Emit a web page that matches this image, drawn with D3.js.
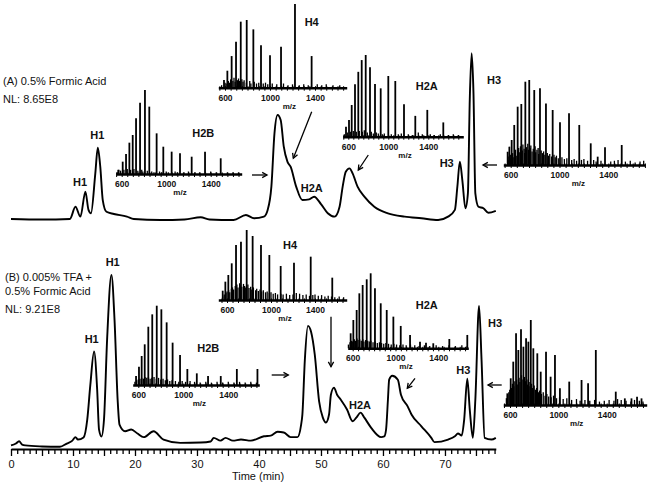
<!DOCTYPE html>
<html><head><meta charset="utf-8">
<script src="https://cdn.jsdelivr.net/npm/d3@7"></script>
<style>
body{margin:0;background:#fff}
text{font-family:"Liberation Sans",Arial,sans-serif;fill:#111}
</style>
</head><body>
<svg id="c" width="651" height="486"></svg>
<script>
// ---------------- DATA ----------------
const timeTicks = [0,10,20,30,40,50,60,70];
const mzTicks = [600,1000,1400];

// Chromatogram (A) 0.5% Formic Acid  (relative intensity, %)
const timeA = [0,5,9.5,10.4,11.2,12.0,12.5,12.9,13.6,14.0,14.4,14.8,15.4,16.6,18.7,19.8,24.1,28,30.6,32,35.9,37.9,39.2,40.8,41.4,42.0,42.5,43.0,43.5,44.0,44.6,45.1,46.0,47.0,48.1,48.9,50.0,51.1,52.2,53.0,53.5,54.0,54.6,55.1,55.9,57.0,58.6,60.8,63.5,66.2,68.9,70.5,71.6,72.0,72.4,72.8,73.3,73.7,74.0,74.3,74.6,74.9,75.4,76.2,77.0,78.2];
const intA  = [1.2,0.9,1.2,8.5,2.6,17.5,6.6,4.6,28.4,43.7,32.4,12.5,5.5,4.2,2.6,1.2,0.6,0.9,2.2,0.9,0.6,3.6,1.6,2.6,6.6,20.5,52.3,63.2,60.2,44.3,35.3,32.4,20.5,12.5,12.9,14.5,10.1,4.6,2.6,8.5,20.5,29.4,31.4,28.4,20.5,14.5,8.5,4.6,2.6,1.6,0.6,2.6,6.6,20.5,35.4,24.4,7.6,16.5,72.2,100,76.1,16.5,8.5,7.6,4.9,6.1];

// Chromatogram (B) 0.005% TFA + 0.5% Formic Acid
const timeB = [0,0.8,1.3,1.8,2.3,5,7.9,9.0,9.9,10.4,10.8,11.7,12.3,12.8,13.4,13.9,14.2,14.6,15.0,15.5,16.2,16.7,17.2,17.5,18.4,19.4,20.4,21.4,23.0,24.6,27.3,30.6,32.2,32.7,33.8,34.6,35.8,37.1,38.7,40.8,41.9,43.0,44.0,45.1,46.2,46.8,47.0,47.4,47.9,48.4,49.0,49.7,50.3,50.8,51.3,51.6,52.1,52.6,53.2,54.2,55.1,55.7,56.4,57.0,58.1,59.7,60.2,60.5,60.8,61.0,61.5,62.4,62.9,64.0,64.6,66.2,67.8,68.3,70.5,71.6,72.1,72.7,73.1,73.6,74.0,74.5,74.9,75.5,75.9,76.4,77.5,78.2];
const intB  = [1.2,2.3,3.6,1.7,1.2,0.6,0.4,2.3,4.0,6.0,4.6,5.8,16.2,36.4,55.7,33.5,10.4,6.4,16.2,62.4,100,74.0,27.7,13.3,9.4,10.4,8.1,6.0,9.4,4.6,2.7,2.9,3.5,5.6,4.0,5.6,4.0,4.6,4.0,6.5,6.9,9.1,8.7,6.0,6.0,13.3,19.1,50.9,70.5,67.1,53.8,26.8,17.3,14.5,19.1,30.6,34.7,30.6,27.7,22.0,15.2,17.3,20.2,17.3,11.4,6.0,6.4,10.4,27.7,39.3,41.6,39.3,30.6,23.7,19.1,12.3,5.6,3.1,4.6,6.5,8.1,6.9,16.2,39.9,22.0,5.6,27.7,82.1,50.9,5.6,4.6,5.6];

// Mass spectra, panel A
const aH2B_mz  = [569,609,639,669,699,729,765,809,848,914,974,1049,1124,1229,1349,1490];
const aH2B_int = [5,14.7,23.8,37.3,46.4,66.3,84.9,100,80.2,48.4,32.5,26.6,24.6,20.6,26.6,18.7];
const aH2B_nzMz  = [560,575,590,620,650,680,710,745,780,790,830,870,890,940,960,1000,1020,1080,1100,1160,1200,1260,1300,1400,1450,1550,1600,1650];
const aH2B_nzInt = [2,5,4,5,6,5,6,4,5,3,4,3,2,3,2,3,2,3,2,2,3,2,2,3,2,2,2,2];

const aH4_mz  = [591,621,659,698,740,793,852,920,1000,1098,1222,1370];
const aH4_int = [9.2,20.3,37.8,54.9,78.9,80.9,69.7,50.8,38.8,48.8,100,37.8];
const aH4_nzMz  = [570,600,610,630,640,650,670,680,690,710,720,730,750,760,770,790,820,830,860,880,900,940,960,980,1020,1060,1120,1160,1200,1260,1300,1340,1420,1460,1500,1560,1620];
const aH4_nzInt = [3,6,5,8,6,10,8,12,7,9,11,8,10,7,9,6,8,5,7,5,6,5,6,4,5,4,5,3,4,3,4,3,4,3,4,3,3];

const aH2A_mz  = [577,607,634,667,700,734,774,817,867,924,1000,1070,1157,1270,1390,1550];
const aH2A_int = [12.2,20.4,38.8,64.1,79.4,93.8,100,84.9,64.5,59.2,74.3,68.2,39.7,25.5,32.8,17.5];
const aH2A_nzMz  = [560,590,620,650,680,710,740,760,790,830,850,880,900,940,960,1030,1100,1130,1200,1240,1300,1340,1420,1460,1520,1600,1650,1700];
const aH2A_nzInt = [3,5,6,7,6,7,6,8,5,6,4,5,4,3,4,3,3,4,3,2,5,3,3,2,3,2,3,2];

const aH3_mz  = [575,589,608,629,657,687,720,752,793,840,889,944,1004,1078,1162,1256,1313,1373,1510];
const aH3_int = [15.6,21.6,29.4,47.1,68.6,71.8,98,100,88.2,90.2,72.5,64.7,50.2,60.8,47.1,25.5,9.8,20.8,23.5];
const aH3_nzMz  = [580,585,595,600,615,620,635,640,645,665,670,680,695,700,710,715,730,740,745,760,765,775,785,800,805,815,825,830,850,860,870,880,900,910,920,935,955,965,975,990,1020,1040,1060,1100,1120,1140,1180,1200,1230,1280,1300,1340,1420,1450,1480,1540,1580,1620,1660,1690];
const aH3_nzInt = [6,10,8,12,14,9,16,18,11,20,15,22,17,24,19,14,21,25,18,20,23,16,19,22,15,18,20,13,17,14,16,12,14,11,13,10,12,9,11,8,9,7,8,6,7,5,6,7,5,6,4,5,4,5,6,4,5,3,4,5];

// Mass spectra, panel B
const bH2B_mz  = [580,606,630,657,689,724,764,805,852,905,971,1036,1120,1220,1333,1476,1659];
const bH2B_int = [11.3,23.1,36.6,51.3,73.5,89.1,100,95.4,79,53.4,37.8,20.2,14.7,11.3,11.3,20.2,20.2];
const bH2B_nzMz  = [570,585,600,615,630,645,660,675,690,705,720,740,760,780,800,820,840,860,880,900,930,960,990,1020,1060,1100,1150,1200,1250,1300,1350,1400,1450,1500,1550,1600,1650];
const bH2B_nzInt = [4,6,7,8,9,8,10,9,10,8,9,10,8,9,7,8,6,7,5,6,5,4,5,4,5,4,3,4,3,4,3,4,3,4,3,4,3];

const bH4_mz  = [561,585,612,643,682,727,779,833,909,985,1088,1209,1361,1557];
const bH4_int = [13.3,26.2,35.7,52.4,78.6,83.3,100,91.4,78.6,64.3,48.6,53.3,61.9,31.9];
const bH4_nzMz  = [560,575,590,600,615,625,640,650,660,675,690,700,715,720,735,750,760,770,790,800,815,825,840,860,870,885,900,915,930,950,965,985,1000,1020,1040,1060,1090,1110,1140,1170,1200,1230,1260,1290,1320,1350,1380,1400,1430,1460,1490,1520,1550,1580,1620,1660];
const bH4_nzInt = [5,8,10,12,14,11,16,18,15,20,22,18,24,21,19,23,20,18,22,17,19,15,18,14,16,13,15,12,14,11,12,10,11,9,10,8,9,8,9,7,8,10,9,7,8,6,7,8,6,7,5,6,5,4,5,4];

const bH2A_mz  = [581,606,637,662,693,731,768,808,862,918,980,1049,1136,1229,1285,1353,1503,1671];
const bH2A_int = [20,37.7,51.1,73.3,84.4,92,100,80,60,51.1,42.2,29.8,17.8,8.9,7.5,6.7,12.4,17.8];
const bH2A_nzMz  = [560,575,590,600,615,625,640,650,665,680,695,705,720,740,755,770,790,810,830,850,870,890,910,935,960,985,1010,1040,1070,1100,1140,1180,1220,1270,1320,1380,1440,1500,1560,1620,1670];
const bH2A_nzInt = [5,8,10,9,12,10,13,11,12,10,12,9,11,10,9,10,8,9,7,8,7,6,7,6,5,6,5,4,5,4,5,4,3,4,3,4,3,4,3,4,3];

const bH3_mz  = [578,606,627,650,669,691,711,733,752,772,793,826,854,898,936,972,1013,1090,1192,1246,1310,1475,1550,1605,1651,1688];
const bH3_int = [13.7,31.4,51,84.3,64.7,89,68.6,78.4,74.5,100,66.7,60.8,39.2,62.7,33.3,58.8,19.6,27.5,29.4,25.5,64.7,15.7,7.8,7.8,9.8,7.8];
const bH3_nzMz  = [570,580,590,598,612,620,632,640,655,660,675,682,695,700,715,720,728,740,745,758,765,778,785,800,810,820,835,845,860,875,890,905,920,940,960,985,1010,1040,1070,1110,1150,1180,1220,1260,1300,1340,1380,1420,1460,1490,1520,1560,1600,1630,1670,1700];
const bH3_nzInt = [8,12,15,18,20,25,22,28,30,24,32,27,35,30,26,33,28,30,24,27,22,25,20,23,18,20,15,17,13,15,11,13,10,9,11,8,9,7,8,6,7,5,6,5,6,4,5,6,5,7,6,5,4,6,5,4];

// ---------------- DRAWING ----------------
const svg = d3.select("#c");
const FONT = '"Liberation Sans", Arial, sans-serif';

const x = d3.scaleLinear().domain([0, 78.2]).range([11, 495.8]);
const yA = d3.scaleLinear().domain([0, 100]).range([221, 53.3]);
const yB = d3.scaleLinear().domain([0, 100]).range([447.5, 275]);

function trace(ts, vs, y) {
  const line = d3.line().x(d => x(d[0])).y(d => y(d[1])).curve(d3.curveMonotoneX);
  svg.append("path").datum(d3.zip(ts, vs)).attr("d", line)
    .attr("fill", "none").attr("stroke", "#000").attr("stroke-width", 1.9)
    .attr("stroke-linejoin", "round");
}
trace(timeA, intA, yA);
trace(timeB, intB, yB);

// time axis
const axY = 449;
const gMinor = svg.append("g").attr("transform", `translate(0,${axY})`)
  .call(d3.axisBottom(x).tickValues(d3.range(0, 79)).tickSize(5).tickSizeOuter(0).tickFormat(""));
gMinor.select(".domain").attr("stroke-width", 2.2).attr("stroke", "#000");
gMinor.selectAll(".tick line").attr("stroke-width", 1.3).attr("stroke", "#000")
  .attr("y2", d => d % 5 === 0 ? 7 : 5);
const gMajor = svg.append("g").attr("transform", `translate(0,${axY})`)
  .call(d3.axisBottom(x).tickValues(timeTicks).tickSize(0).tickPadding(11).tickFormat(d3.format("d")));
gMajor.select(".domain").remove();
gMajor.selectAll("text").attr("font-family", FONT).attr("font-size", 11).attr("fill", "#111");
svg.append("text").attr("x", 258).attr("y", 480).attr("text-anchor", "middle")
  .attr("font-size", 11).text("Time (min)");

// spectrum insets
function inset(cfg, mz, it, nmz, nit) {
  const k = (cfg.p1400 - cfg.p600) / 800;
  const sx = d3.scaleLinear()
    .domain([600 + (cfg.x0 - cfg.p600) / k, 600 + (cfg.x1 - cfg.p600) / k])
    .range([cfg.x0, cfg.x1]);
  const sy = d3.scaleLinear().domain([0, 100]).range([cfg.base, cfg.base - cfg.h]);
  const g = svg.append("g");
  g.selectAll("line.nz").data(d3.zip(nmz, nit)).join("line").attr("class", "nz")
    .attr("x1", d => sx(d[0])).attr("x2", d => sx(d[0]))
    .attr("y1", sy(0)).attr("y2", d => sy(d[1]))
    .attr("stroke", "#000").attr("stroke-width", 1.3);
  g.selectAll("line.pk").data(d3.zip(mz, it)).join("line").attr("class", "pk")
    .attr("x1", d => sx(d[0])).attr("x2", d => sx(d[0]))
    .attr("y1", sy(0)).attr("y2", d => sy(d[1]))
    .attr("stroke", "#000").attr("stroke-width", 1.8);
  const dom = sx.domain();
  const ga = g.append("g").attr("transform", `translate(0,${cfg.base})`)
    .call(d3.axisBottom(sx).tickValues(d3.range(Math.ceil(dom[0] / 50) * 50, dom[1], 50))
      .tickSize(3).tickSizeOuter(0).tickFormat(""));
  ga.select(".domain").attr("stroke-width", 2.4).attr("stroke", "#000");
  ga.selectAll(".tick line").attr("stroke", "#000").attr("stroke-width", 1).attr("y1", -1.5);
  const gl = g.append("g").attr("transform", `translate(0,${cfg.base})`)
    .call(d3.axisBottom(sx).tickValues(mzTicks).tickSize(0).tickPadding(7).tickFormat(d3.format("d")));
  gl.select(".domain").remove();
  gl.selectAll("text").attr("font-family", FONT).attr("font-size", 8.5)
    .attr("font-weight", "bold").attr("fill", "#111");
  g.append("text").attr("x", cfg.mzx).attr("y", cfg.base + 21).attr("text-anchor", "middle")
    .attr("font-size", 8).attr("font-weight", "bold").text("m/z");
}

inset({p600:121.7, p1400:210.7, x0:116,   x1:241.7, base:174,   h:84,   mzx:180},   aH2B_mz, aH2B_int, aH2B_nzMz, aH2B_nzInt);
inset({p600:225,   p1400:315,   x0:218.3, x1:346.7, base:87.7,  h:83.7, mzx:289.3}, aH4_mz,  aH4_int,  aH4_nzMz,  aH4_nzInt);
inset({p600:348.3, p1400:428.3, x0:342.7, x1:463.3, base:136.7, h:81.7, mzx:405},   aH2A_mz, aH2A_int, aH2A_nzMz, aH2A_nzInt);
inset({p600:510.7, p1400:608.3, x0:503.3, x1:645,   base:165,   h:85,   mzx:578.3}, aH3_mz,  aH3_int,  aH3_nzMz,  aH3_nzInt);
inset({p600:138.3, p1400:228.3, x0:132.7, x1:259.3, base:385,   h:79.3, mzx:199.3}, bH2B_mz, bH2B_int, bH2B_nzMz, bH2B_nzInt);
inset({p600:227,   p1400:315,   x0:218.3, x1:346.7, base:300,   h:70,   mzx:285},   bH4_mz,  bH4_int,  bH4_nzMz,  bH4_nzInt);
inset({p600:352.7, p1400:438.3, x0:347.7, x1:468.3, base:348.3, h:75,   mzx:406},   bH2A_mz, bH2A_int, bH2A_nzMz, bH2A_nzInt);
inset({p600:510,   p1400:606.7, x0:503.3, x1:646.7, base:405,   h:85,   mzx:576.7}, bH3_mz,  bH3_int,  bH3_nzMz,  bH3_nzInt);

// arrows
function arrow(x1, y1, x2, y2) {
  const a = Math.atan2(y2 - y1, x2 - x1), L = 5.5, s = 0.5;
  svg.append("line").attr("x1", x1).attr("y1", y1).attr("x2", x2).attr("y2", y2)
    .attr("stroke", "#000").attr("stroke-width", 1.3);
  svg.append("path")
    .attr("d", `M${x2 - L * Math.cos(a - s)},${y2 - L * Math.sin(a - s)}L${x2},${y2}L${x2 - L * Math.cos(a + s)},${y2 - L * Math.sin(a + s)}`)
    .attr("fill", "none").attr("stroke", "#000").attr("stroke-width", 1.3);
}
arrow(252, 175, 267, 175);
arrow(311.7, 111.7, 293.3, 158.3);
arrow(368.3, 155, 358.3, 170);
arrow(497, 165, 483, 165);
arrow(271.7, 375, 288.3, 375);
arrow(331, 316.7, 331, 366.7);
arrow(415, 378.3, 407.3, 388.3);
arrow(501.7, 385, 488, 385);

// text labels
function label(t, px, py, opts = {}) {
  svg.append("text").attr("x", px).attr("y", py)
    .attr("text-anchor", opts.anchor || "middle")
    .attr("font-size", opts.size || 11)
    .attr("font-weight", opts.weight || "bold").text(t);
}
label("(A) 0.5% Formic Acid", 3, 85, {anchor: "start", weight: "normal"});
label("NL: 8.65E8", 3, 103, {anchor: "start", weight: "normal"});
label("(B) 0.005% TFA +", 5, 281, {anchor: "start", weight: "normal"});
label("0.5% Formic Acid", 5, 294.5, {anchor: "start", weight: "normal"});
label("NL: 9.21E8", 5, 313, {anchor: "start", weight: "normal"});

label("H1", 80, 185.7);
label("H1", 97.3, 139);
label("H2B", 203.3, 137.3);
label("H4", 311.7, 25.7);
label("H2A", 311.7, 192.3);
label("H2A", 426.7, 90);
label("H3", 494, 84);
label("H3", 446.7, 167.3);

label("H1", 112.7, 265.7);
label("H1", 91.7, 343.3);
label("H2B", 208.3, 352.3);
label("H4", 290, 249);
label("H2A", 426.7, 309);
label("H2A", 360, 409);
label("H3", 463.3, 374);
label("H3", 495, 326.7);
</script>
</body></html>
